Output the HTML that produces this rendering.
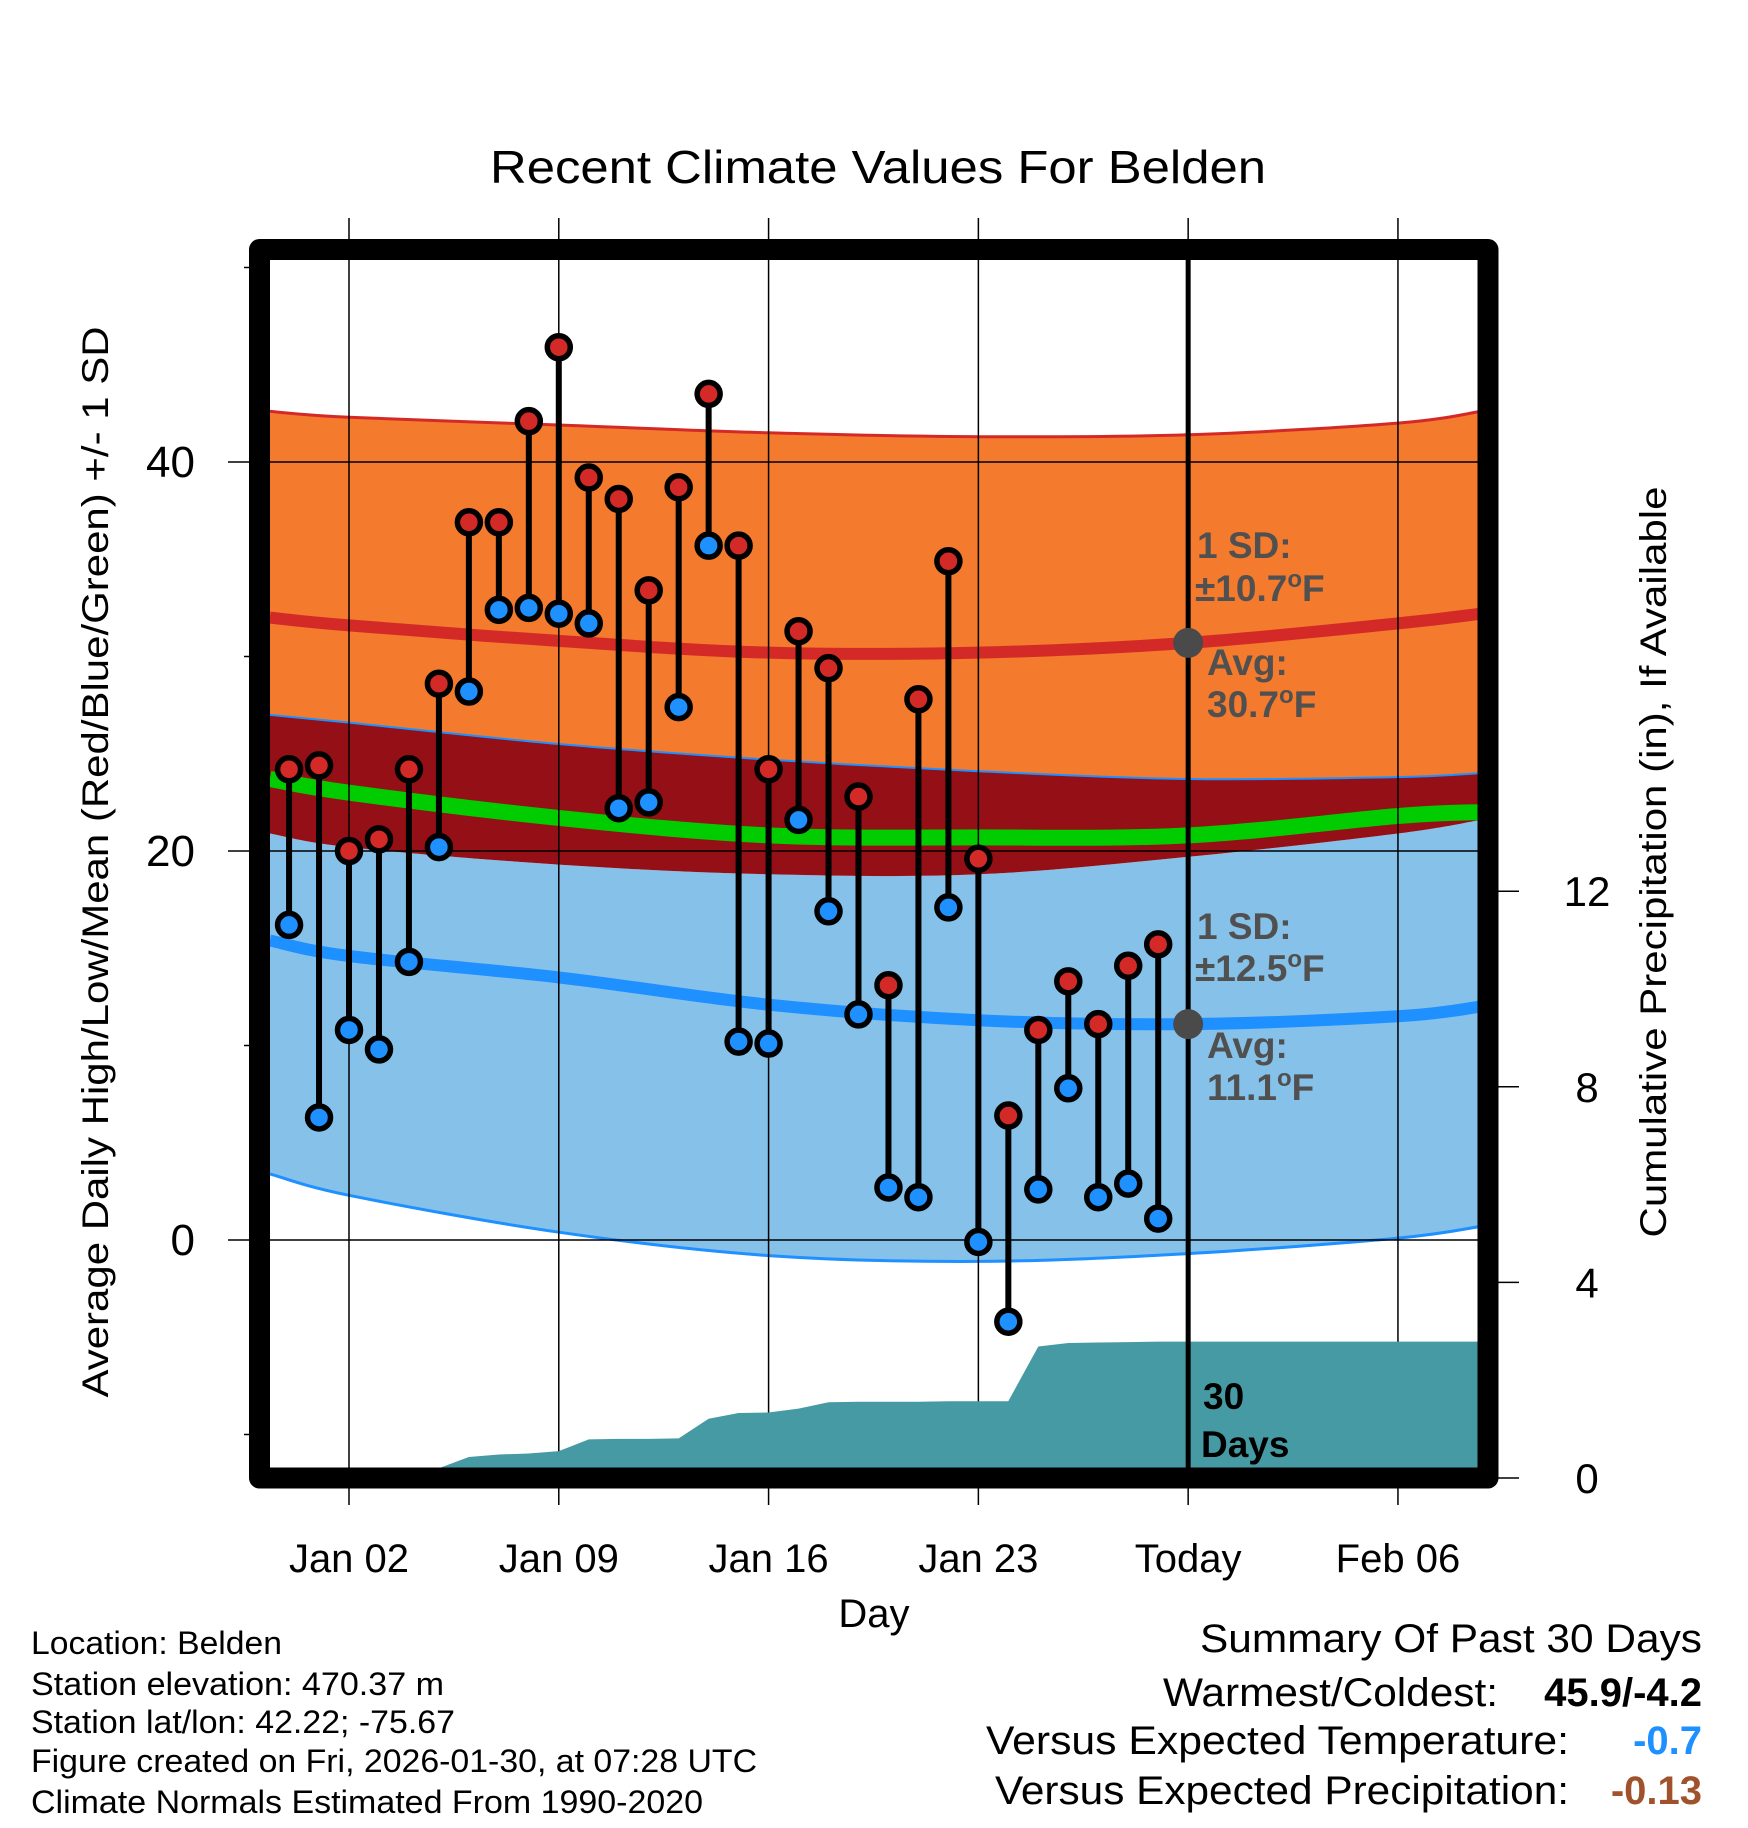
<!DOCTYPE html>
<html><head><meta charset="utf-8"><style>
html,body{margin:0;padding:0;background:#fff}
svg{display:block;font-family:"Liberation Sans",Arial,sans-serif}
</style></head><body>
<svg id="chart" xmlns="http://www.w3.org/2000/svg" width="1748" height="1828" viewBox="0 0 1748 1828">
<defs><clipPath id="plotclip"><rect x="270" y="260" width="1208" height="1208"/></clipPath></defs>
<rect width="1748" height="1828" fill="#fff"/>
<g id="bands" clip-path="url(#plotclip)"></g>
<g id="grid"></g>
<g id="precip" clip-path="url(#plotclip)"></g>
<g id="marks" clip-path="url(#plotclip)"></g>
<g id="annot"></g>
<rect x="259.5" y="249.5" width="1228.5" height="1228.5" fill="none" stroke="#000" stroke-width="21" stroke-linejoin="round"/>
<g id="axes"></g>
<text x="878" y="183" font-size="46" text-anchor="middle" textLength="776" lengthAdjust="spacingAndGlyphs">Recent Climate Values For Belden</text>
<text x="874" y="1627" font-size="40" text-anchor="middle">Day</text>
<text transform="translate(108,862) rotate(-90)" font-size="37" text-anchor="middle" textLength="1071" lengthAdjust="spacingAndGlyphs">Average Daily High/Low/Mean (Red/Blue/Green) +/- 1 SD</text>
<text transform="translate(1666,862) rotate(-90)" font-size="37" text-anchor="middle" textLength="751" lengthAdjust="spacingAndGlyphs">Cumulative Precipitation (in), If Available</text>
<g font-size="32">
<text x="31" y="1654" textLength="251" lengthAdjust="spacingAndGlyphs">Location: Belden</text>
<text x="31" y="1695" textLength="413" lengthAdjust="spacingAndGlyphs">Station elevation: 470.37 m</text>
<text x="31" y="1733" textLength="424" lengthAdjust="spacingAndGlyphs">Station lat/lon: 42.22; -75.67</text>
<text x="31" y="1772" textLength="726" lengthAdjust="spacingAndGlyphs">Figure created on Fri, 2026-01-30, at 07:28 UTC</text>
<text x="31" y="1813" textLength="672" lengthAdjust="spacingAndGlyphs">Climate Normals Estimated From 1990-2020</text>
</g>
<g font-size="40" text-anchor="end">
<text x="1702" y="1652" textLength="502" lengthAdjust="spacingAndGlyphs">Summary Of Past 30 Days</text>
<text x="1498" y="1706" textLength="335" lengthAdjust="spacingAndGlyphs">Warmest/Coldest:</text>
<text x="1702" y="1706" font-weight="bold">45.9/-4.2</text>
<text x="1569" y="1754" textLength="583" lengthAdjust="spacingAndGlyphs">Versus Expected Temperature:</text>
<text x="1702" y="1754" font-weight="bold" fill="#1E90FF">-0.7</text>
<text x="1569" y="1804" textLength="574" lengthAdjust="spacingAndGlyphs">Versus Expected Precipitation:</text>
<text x="1702" y="1804" font-weight="bold" fill="#A0522D">-0.13</text>
</g>
</svg>
<script>
// day index 0 = Jan 02
const dayLabels = ["Dec 31","Jan 01","Jan 02","Jan 03","Jan 04","Jan 05","Jan 06","Jan 07","Jan 08","Jan 09","Jan 10","Jan 11","Jan 12","Jan 13","Jan 14","Jan 15","Jan 16","Jan 17","Jan 18","Jan 19","Jan 20","Jan 21","Jan 22","Jan 23","Jan 24","Jan 25","Jan 26","Jan 27","Jan 28","Jan 29"];
const dayIndex = [-2,-1,0,1,2,3,4,5,6,7,8,9,10,11,12,13,14,15,16,17,18,19,20,21,22,23,24,25,26,27];
const highs = [24.2,24.4,20.0,20.6,24.2,28.6,36.9,36.9,42.1,45.9,39.2,38.1,33.4,38.7,43.5,35.7,24.2,31.3,29.4,22.8,13.1,27.8,34.9,19.6,6.4,10.8,13.3,11.1,14.1,15.2];
const lows = [16.2,6.3,10.8,9.8,14.3,20.2,28.2,32.4,32.5,32.2,31.7,22.2,22.5,27.4,35.7,10.2,10.1,21.6,16.9,11.6,2.7,2.2,17.1,-0.1,-4.2,2.6,7.8,2.2,2.9,1.1];
const precipCum = [0,0,0,0,0.05,0.2,0.43,0.48,0.5,0.55,0.79,0.8,0.8,0.81,1.21,1.33,1.34,1.42,1.55,1.56,1.56,1.56,1.57,1.57,1.57,2.69,2.76,2.77,2.78,2.79];
// normals sampled at day indices
const normDays = [-2.64,0,7,14,21,28,35,37.76];
const avgHigh = [32.0,31.6,30.8,30.2,30.2,30.7,31.7,32.2];
const highPlusSD = [42.6,42.3,41.9,41.5,41.3,41.4,42.0,42.6];
const highMinusSD = [27.0,26.6,25.5,24.7,24.1,23.7,23.8,24.0];
const avgLow = [15.4,14.6,13.5,12.1,11.3,11.1,11.5,12.0];
const lowPlusSD = [20.9,20.2,19.3,18.8,18.8,19.7,20.9,21.6];
const lowMinusSD = [3.4,2.3,0.4,-0.8,-1.1,-0.7,0.1,0.7];
const avgMean = [23.7,23.0,21.7,20.8,20.7,20.8,21.8,22.0];
const xTickDays = [0,7,14,21,28,35];
const xTickLabels = ["Jan 02","Jan 09","Jan 16","Jan 23","Today","Feb 06"];
const yTicks = [0,20,40];
const yMinor = [-10,10,30,50];
const y2Ticks = [0,4,8,12];

const NS="http://www.w3.org/2000/svg";
const X = d => 349 + d*29.97;
const Y = t => 1240 - t*19.45;
const Y2 = p => 1478 - p*48.9;
function mk(parent,tag,attrs){const e=document.createElementNS(NS,tag);for(const k in attrs)e.setAttribute(k,attrs[k]);parent.appendChild(e);return e;}
const bands=document.getElementById('bands'),grid=document.getElementById('grid'),marks=document.getElementById('marks'),axes=document.getElementById('axes'),annot=document.getElementById('annot'),precip=document.getElementById('precip');

function pts(arr){return normDays.map((d,i)=>[X(d),Y(arr[i])]);}
// smooth curve (Catmull-Rom -> cubic Bezier), without leading M
function smooth(p){
  let s='';
  for(let i=0;i<p.length-1;i++){
    const p0=p[Math.max(i-1,0)],p1=p[i],p2=p[i+1],p3=p[Math.min(i+2,p.length-1)];
    const c1=[p1[0]+(p2[0]-p0[0])/6,p1[1]+(p2[1]-p0[1])/6];
    const c2=[p2[0]-(p3[0]-p1[0])/6,p2[1]-(p3[1]-p1[1])/6];
    s+=' C'+c1[0].toFixed(1)+','+c1[1].toFixed(1)+' '+c2[0].toFixed(1)+','+c2[1].toFixed(1)+' '+p2[0].toFixed(1)+','+p2[1].toFixed(1);
  }
  return s;
}
function curve(arr){const p=pts(arr);return 'M'+p[0][0].toFixed(1)+','+p[0][1].toFixed(1)+smooth(p);}
function bandPath(top,bot){const a=pts(top),b=pts(bot).reverse();return 'M'+a[0][0]+','+a[0][1]+smooth(a)+' L'+b[0][0]+','+b[0][1]+smooth(b)+'Z';}

let e;
e=mk(bands,'path',{d:bandPath(highPlusSD,highMinusSD),fill:'#F47A2E'});


e=mk(bands,'path',{d:bandPath(lowPlusSD,lowMinusSD),fill:'#85C1E8'});


e=mk(bands,'path',{d:bandPath(highMinusSD,lowPlusSD),fill:'#940F16'});


e=mk(bands,'path',{d:curve(highPlusSD),fill:'none',stroke:'#D42A27','stroke-width':3});


e=mk(bands,'path',{d:curve(highMinusSD),fill:'none',stroke:'#1E90FF','stroke-width':2});


e=mk(bands,'path',{d:curve(lowMinusSD),fill:'none',stroke:'#1E90FF','stroke-width':3});


e=mk(bands,'path',{d:curve(avgMean),fill:'none',stroke:'#00CC00','stroke-width':16});


e=mk(bands,'path',{d:curve(avgHigh),fill:'none',stroke:'#D42A27','stroke-width':12});


e=mk(bands,'path',{d:curve(avgLow),fill:'none',stroke:'#1E90FF','stroke-width':12});



// grid
xTickDays.forEach((d,i)=>{
  e=mk(grid,'line',{x1:X(d),x2:X(d),y1:218,y2:1505,stroke:'#000','stroke-width':1.5});
  
  
  e=mk(axes,'text',{x:X(d),y:1572,'font-size':40,'text-anchor':'middle'});
  e.textContent=xTickLabels[i];
  
  
});
yTicks.forEach(t=>{
  e=mk(grid,'line',{x1:228,x2:1478,y1:Y(t),y2:Y(t),stroke:'#000','stroke-width':1.5});
  
  
  e=mk(axes,'text',{x:195,y:Y(t)+15,'font-size':44,'text-anchor':'end'});
  e.textContent=t;
  
  
});
yMinor.forEach(t=>{
  e=mk(axes,'line',{x1:244,x2:260,y1:Y(t),y2:Y(t),stroke:'#000','stroke-width':1.5});
  
  
});
y2Ticks.forEach(p=>{
  e=mk(axes,'line',{x1:1488,x2:1519,y1:Y2(p),y2:Y2(p),stroke:'#000','stroke-width':1.5});
  
  
  e=mk(axes,'text',{x:1587,y:Y2(p)+15,'font-size':42,'text-anchor':'middle'});
  e.textContent=p;
  
  
});

// precip area
let pp='M'+X(dayIndex[0])+','+Y2(0);
dayIndex.forEach((d,i)=>{pp+=' L'+X(d).toFixed(1)+','+Y2(precipCum[i]).toFixed(1);});
pp+=' L1480,'+Y2(precipCum[precipCum.length-1]).toFixed(1)+' L1480,'+Y2(0)+' L250,'+Y2(0)+'Z';
e=mk(precip,'path',{d:pp,fill:'#469AA3'});



// today line
e=mk(marks,'line',{x1:X(28),x2:X(28),y1:250,y2:1470,stroke:'#000','stroke-width':5});



// stems and dots
dayIndex.forEach((d,i)=>{
  e=mk(marks,'line',{x1:X(d),x2:X(d),y1:Y(highs[i]),y2:Y(lows[i]),stroke:'#000','stroke-width':6});
  
  
});
dayIndex.forEach((d,i)=>{
  e=mk(marks,'circle',{cx:X(d),cy:Y(highs[i]),r:11.5,fill:'#D42A27',stroke:'#000','stroke-width':5.5});
  
  
  e=mk(marks,'circle',{cx:X(d),cy:Y(lows[i]),r:11.5,fill:'#1E90FF',stroke:'#000','stroke-width':5.5});
  
  
});

// annotations
const avgHighToday=avgHigh[5], avgLowToday=avgLow[5];
e=mk(annot,'circle',{cx:X(28),cy:Y(avgHighToday),r:15,fill:'#4A4A4A'});


e=mk(annot,'circle',{cx:X(28),cy:Y(avgLowToday),r:15,fill:'#4A4A4A'});


function ann(x,y,main,sup,rest,name){
  const t=mk(annot,'text',{x:x,y:y,'font-size':37,'font-weight':'bold',fill:'#505050'});
  
  
  t.appendChild(document.createTextNode(main));
  if(sup){const s=mk(t,'tspan',{dy:-14,'font-size':24});s.textContent=sup;const r=mk(t,'tspan',{dy:14});r.textContent=rest;}
}
ann(1197,558,'1 SD:','','','sd-high-label');
ann(1195,601,'±10.7','o','F','sd-high-value');
ann(1207,675,'Avg:','','','avg-high-label');
ann(1207,717,'30.7','o','F','avg-high-value');
ann(1197,939,'1 SD:','','','sd-low-label');
ann(1195,981,'±12.5','o','F','sd-low-value');
ann(1207,1058,'Avg:','','','avg-low-label');
ann(1207,1100,'11.1','o','F','avg-low-value');
e=mk(annot,'text',{x:1203,y:1409,'font-size':37,'font-weight':'bold'});
e.textContent='30';


e=mk(annot,'text',{x:1201,y:1457,'font-size':37,'font-weight':'bold'});
e.textContent='Days';


</script>
</body></html>
